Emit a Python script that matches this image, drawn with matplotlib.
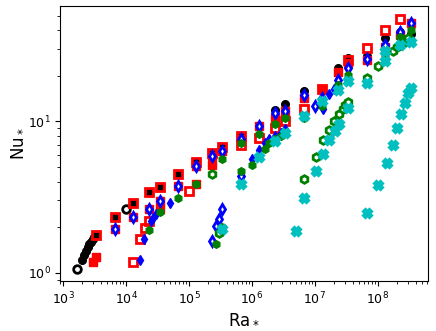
import matplotlib
matplotlib.use("Agg")
import matplotlib.pyplot as plt

# ---------------- data ----------------
# black filled circles
bk_ra = [1.96e3, 2.15e3, 2.29e3, 2.45e3, 2.59e3, 2.75e3, 2.93e3, 3.1e3, 3.3e3,
         6.7e3, 1.3e4, 2.3e4, 3.4e4, 6.7e4, 1.3e5, 2.3e5, 3.4e5, 6.7e5, 1.3e6,
         2.3e6, 3.4e6, 6.7e6, 2.3e7, 3.4e7, 6.7e7, 1.3e8, 2.3e8, 3.4e8]
bk_nu = [1.22, 1.30, 1.40, 1.47, 1.54, 1.60, 1.66, 1.72, 1.77,
         2.35, 2.88, 3.39, 3.69, 4.48, 5.35, 6.17, 6.73, 8.03, 9.36,
         11.9, 13.0, 15.8, 22.5, 26.2, 27.1, 35.5, 39.3, 38.0]
# black open circles
bko_ra = [1.63e3, 1.0e4]
bko_nu = [1.06, 2.62]

# red filled squares
rf_ra = [2.96e3, 3.3e3, 6.7e3, 1.3e4, 2.3e4, 3.4e4, 3.4e4, 6.7e4, 1.3e5, 1.3e5,
         2.3e5, 2.3e5, 3.4e5, 6.7e5, 1.3e6, 2.3e6, 3.4e6, 6.7e6, 1.3e7, 2.3e7,
         3.4e7, 6.7e7, 1.3e8, 2.3e8, 3.4e8]
rf_nu = [1.17, 1.26, 1.94, 2.35, 2.65, 2.98, 2.62, 3.75, 5.1, 3.85,
         5.9, 5.15, 6.4, 7.7, 9.36, 10.6, 11.8, 14.2, 16.4, 21.2,
         24.2, 25.5, 30.9, 37.0, 45.0]
# red open squares
ro_ra = [3.3e3, 6.7e3, 1.3e4, 2.3e4, 3.4e4, 6.7e4, 1.3e5, 2.3e5, 3.4e5, 6.7e5,
         1.3e4, 1.65e4, 2.0e4, 2.3e4, 1.0e5, 6.7e5, 1.3e6, 2.3e6, 3.4e6, 6.7e6,
         1.3e7, 3.4e7, 6.7e7, 1.3e8, 2.3e8]
ro_nu = [1.77, 2.35, 2.88, 3.39, 3.69, 4.48, 5.35, 6.17, 6.73, 8.03,
         1.18, 1.66, 1.96, 2.2, 3.47, 7.0, 7.8, 9.1, 10.1, 12.0,
         16.4, 25.5, 30.5, 40.5, 47.3]

# blue filled diamonds
bf_ra = [1.65e4, 1.9e4, 2.5e4, 2.7e4, 3.0e4, 4.9e4, 1.0e6, 1.3e6, 1.6e6, 1.9e6,
         2.3e6, 2.9e6, 3.4e6, 1.36e7, 1.7e7, 2.0e7]
bf_nu = [1.22, 1.66, 2.2, 2.3, 2.45, 2.9, 5.6, 6.5, 7.2, 7.7,
         8.0, 8.4, 8.96, 12.0, 15.2, 16.4]
# blue open diamonds
bo_ra = [6.7e3, 1.3e4, 2.3e4, 3.4e4, 6.7e4, 1.3e5, 2.3e5, 3.4e5, 6.7e5, 1.3e6,
         2.3e6, 3.4e6, 6.7e6, 1.3e7, 2.3e7, 3.4e7, 6.7e7, 1.3e8, 2.3e8, 3.4e8,
         2.3e5, 2.65e5, 2.95e5, 3.3e5, 6.7e5, 1.0e7]
bo_nu = [1.94, 2.35, 2.65, 2.98, 3.75, 5.1, 5.9, 6.4, 7.7, 9.36,
         11.3, 11.8, 15.0, 14.3, 18.8, 22.5, 26.0, 32.0, 39.0, 44.6,
         1.62, 2.04, 2.25, 2.65, 4.37, 12.6]

# green filled hexagons
gf_ra = [2.3e4, 3.4e4, 6.7e4, 1.3e5, 2.65e5, 3.3e5, 3.4e5, 6.7e5, 1.0e6, 1.6e6,
         1.9e6, 2.3e6, 2.9e6, 3.4e6, 6.7e5, 1.3e6, 2.3e6, 3.4e6, 6.7e6, 1.3e7,
         2.3e7, 3.4e7, 6.7e7, 1.3e8, 2.3e8, 3.4e8]
gf_nu = [1.92, 2.5, 3.13, 3.85, 1.54, 1.99, 5.6, 4.7, 5.15, 6.6,
         7.2, 7.6, 8.0, 8.4, 7.2, 8.2, 9.6, 10.6, 10.6, 12.7,
         17.5, 20.3, 19.0, 26.8, 36.4, 40.0]
# green open hexagons
go_ra = [2.3e5, 2.95e5, 6.8e6, 1.03e7, 1.36e7, 1.7e7, 2.0e7, 2.4e7, 2.78e7, 3.05e7,
         3.36e7, 6.7e7, 1.02e8, 1.73e8, 2.04e8, 2.54e8, 3.06e8]
go_nu = [4.52, 1.84, 4.17, 5.82, 7.5, 8.8, 10.1, 11.2, 12.1, 12.8,
         13.5, 19.3, 23.1, 29.0, 31.0, 32.9, 35.5]

# cyan crosses
cy_ra = [3.3e5, 6.7e5, 1.3e6, 2.3e6, 3.4e6, 6.7e6, 1.3e7, 2.3e7, 3.4e7, 6.7e7,
         1.3e8, 1.3e8, 2.3e8, 3.4e8,
         5.06e6, 6.8e6, 1.03e7, 1.36e7, 1.7e7, 2.08e7, 2.4e7, 3.36e7,
         6.8e7, 1.02e8, 1.39e8, 1.73e8, 2.05e8, 2.35e8, 2.7e8, 3.06e8, 3.4e8]
cy_nu = [1.95, 3.84, 5.78, 7.4, 8.4, 10.8, 13.7, 16.2, 18.4, 17.9,
         25.2, 29.0, 32.0, 33.5,
         1.88, 3.12, 4.68, 6.12, 7.5, 8.7, 9.65, 12.25,
         2.49, 3.78, 5.32, 7.0, 9.1, 11.2, 13.3, 15.4, 16.6]

# ---------------- figure ----------------
fig = plt.figure(figsize=(4.36, 3.31), dpi=100)
ax = fig.add_axes([0.1383, 0.151, 0.8437, 0.831])

ms = 5.5
ax.plot(bk_ra, bk_nu, 'o', color='k', ms=ms, ls='none')
ax.plot(bko_ra, bko_nu, 'o', mfc='white', mec='k', mew=2.0, ms=ms, ls='none')
ax.plot(rf_ra, rf_nu, 's', color='r', ms=ms, ls='none')
ax.plot(ro_ra, ro_nu, 's', mfc='none', mec='r', mew=2.0, ms=ms, ls='none')
ax.plot(bf_ra, bf_nu, 'd', color='b', ms=ms, ls='none')
ax.plot(bo_ra, bo_nu, 'd', mfc='white', mec='b', mew=2.0, ms=ms, ls='none')
ax.plot(gf_ra, gf_nu, 'h', color='g', ms=ms, ls='none')
ax.plot(go_ra, go_nu, 'h', mfc='white', mec='g', mew=2.0, ms=ms, ls='none')
ax.plot(cy_ra, cy_nu, 'X', mfc='white', mec='c', mew=2.2, ms=ms, ls='none')

ax.set_xscale('log')
ax.set_yscale('log')
ax.set_xlim(896, 6.35e8)
ax.set_ylim(0.88, 58.0)

ax.tick_params(axis='both', which='major', labelsize=9)
ax.set_xlabel('Ra$_*$', fontsize=12, labelpad=1)
ax.set_ylabel('Nu$_*$', fontsize=12, labelpad=2)

fig.savefig('out.png', dpi=100)
